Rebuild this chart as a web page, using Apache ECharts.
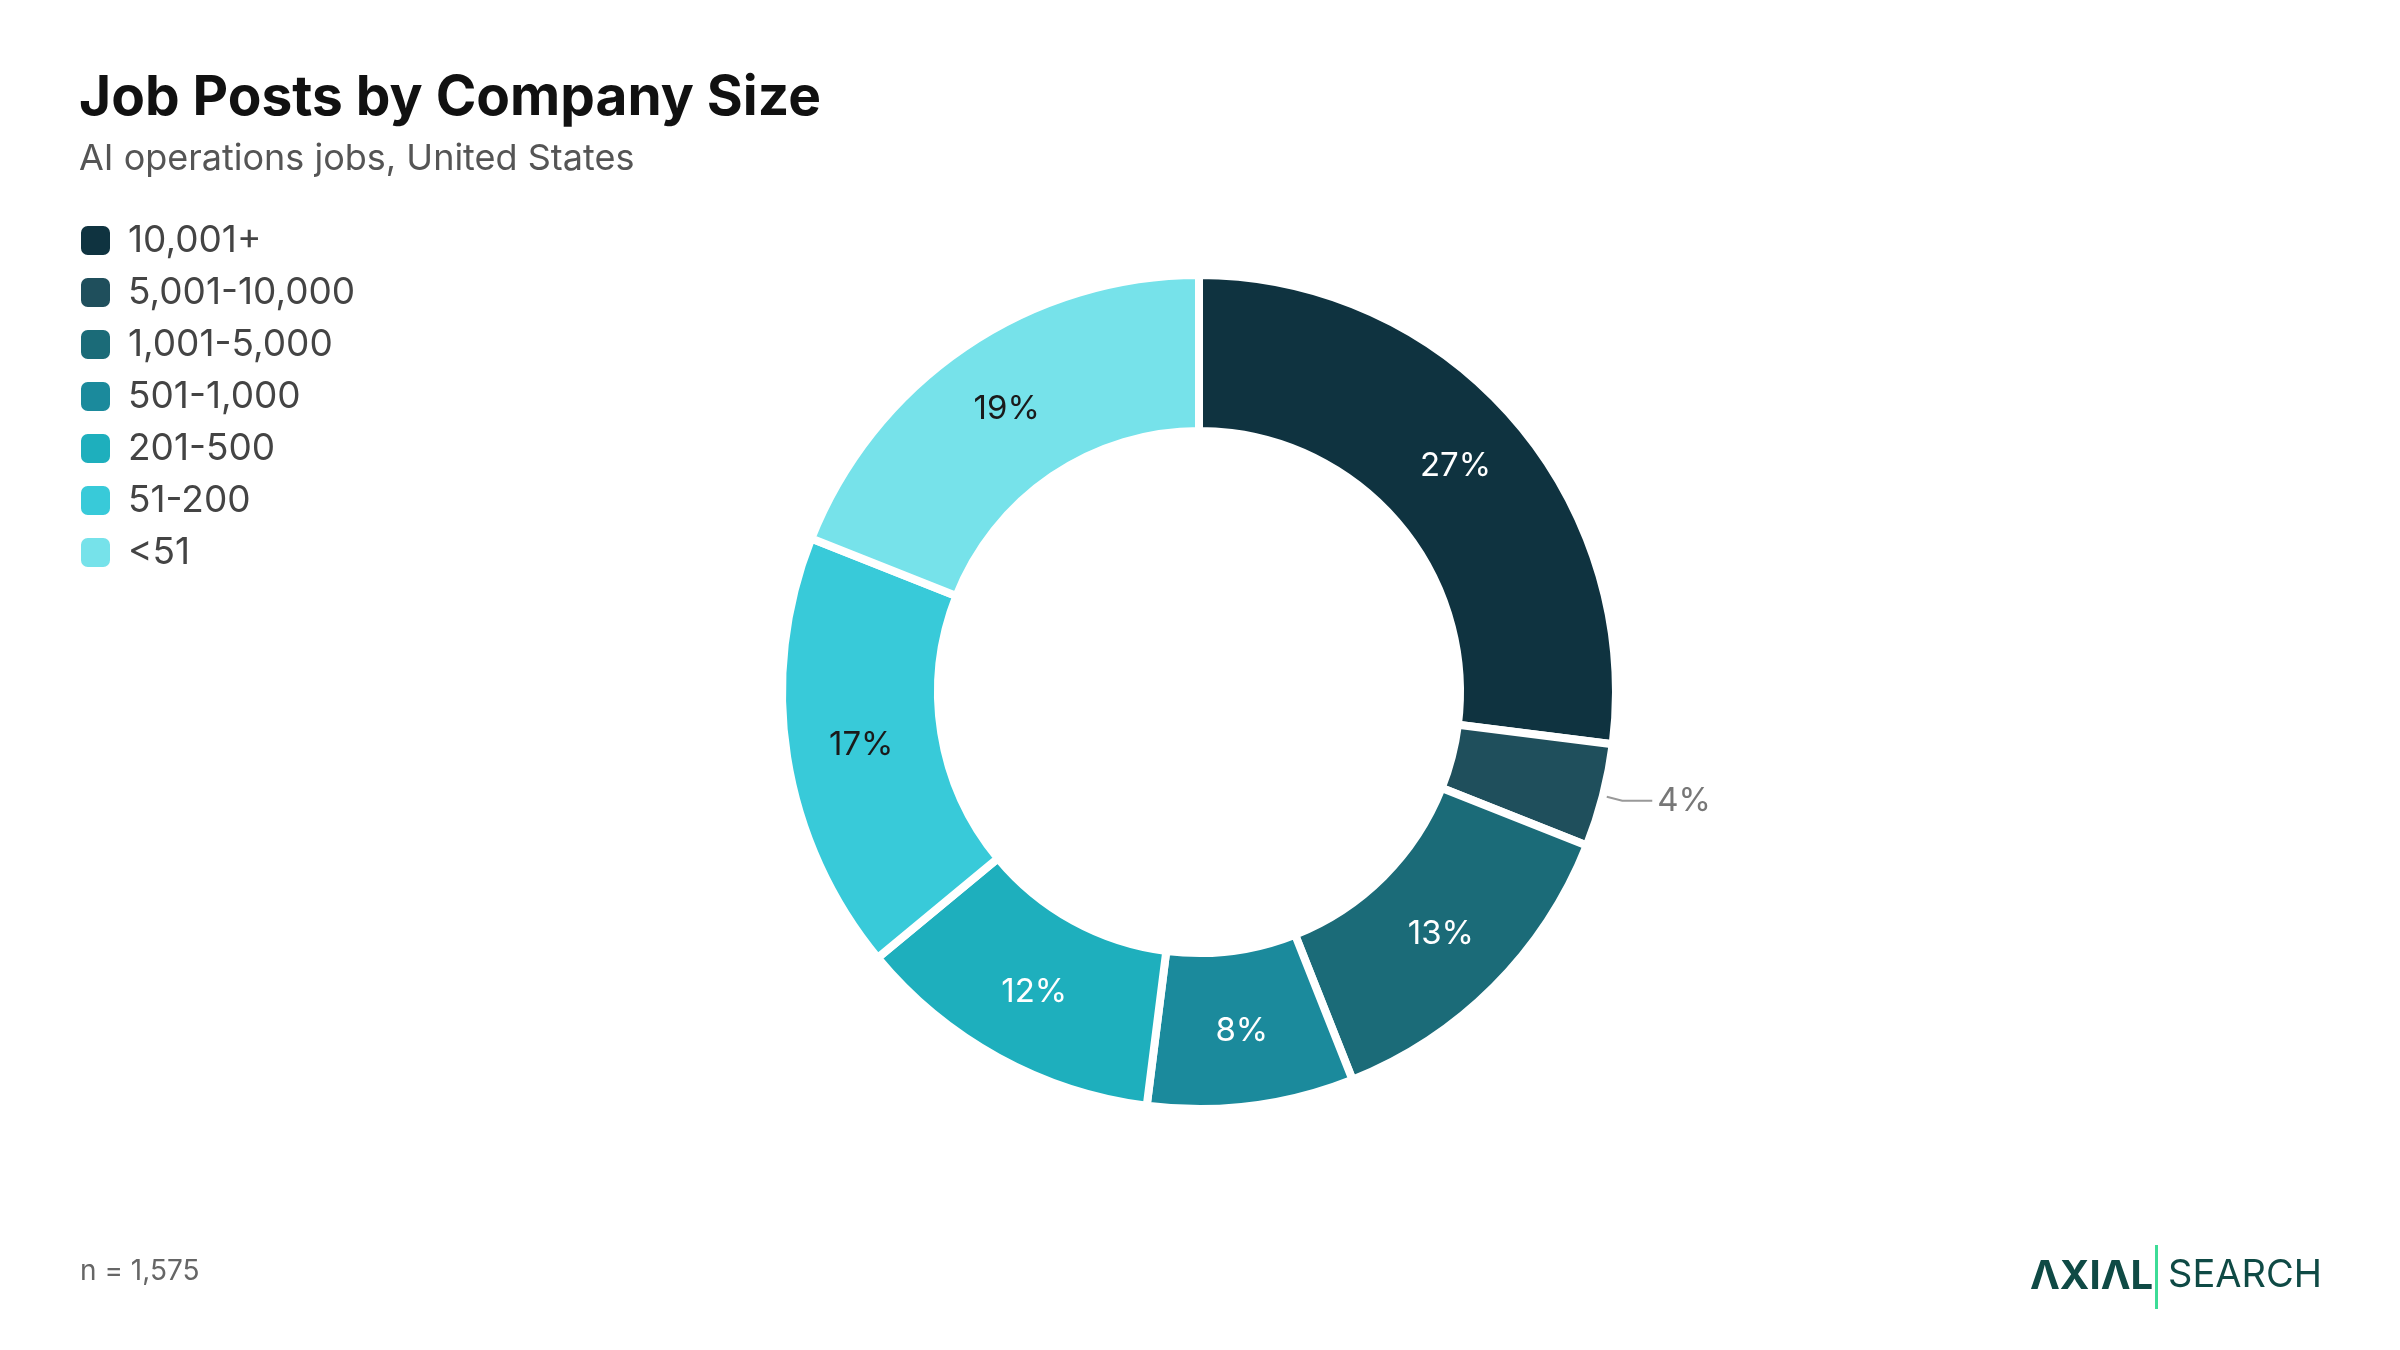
<!DOCTYPE html>
<html><head><meta charset="utf-8">
<script src="https://cdn.jsdelivr.net/npm/echarts@6/dist/echarts.min.js"></script>
<style>html,body{margin:0;padding:0;background:#fff}#c{width:2400px;height:1350px}</style>
</head><body><div id="c"></div>
<script>
const categories = ['10,001+','5,001-10,000','1,001-5,000','501-1,000','201-500','51-200','<51'];
const values = [27,4,13,8,12,17,19];
const colors = ['#0f3340','#1f4f5c','#1b6b78','#1b8a9c','#1eafbd','#38cad9','#76e2ea'];
const labelColors = ['#fff','#fff','#fff','#fff','#fff','#1a1a1a','#1a1a1a'];
const chart = echarts.init(document.getElementById('c'));
const font = 'Inter, "Noto Sans", sans-serif';
chart.setOption({
  backgroundColor:'#fff',
  color: colors,
  title:[{text:'Job Posts by Company Size',left:74,top:66,textStyle:{fontFamily:font,fontSize:55,fontWeight:'bold',color:'#111'}},
         {text:'AI operations jobs, United States',left:74,top:136,textStyle:{fontFamily:font,fontSize:36,fontWeight:'normal',color:'#555'}}],
  legend:{orient:'vertical',left:74,top:217,itemWidth:31,itemHeight:31,itemGap:15,icon:'roundRect',
    textStyle:{fontFamily:font,fontSize:37,color:'#444',padding:[0,0,0,12]},data:categories},
  series:[{type:'pie',center:[1199,692],radius:[261,417],startAngle:90,clockwise:true,
    itemStyle:{borderColor:'#fff',borderWidth:8},
    label:{position:'inside',formatter:'{c}%',fontFamily:font,fontSize:33},
    labelLine:{show:false},
    data:categories.map((n,i)=>{
      const d={name:n,value:values[i],label:{color:labelColors[i]}};
      if(i===1){d.label={position:'outside',color:'#777',fontSize:33,fontFamily:font};
        d.labelLine={show:true,length:20,length2:30,lineStyle:{color:'#999',width:2}};}
      return d;})
  }],
  graphic:[
    {type:'text',left:80,top:1258,style:{text:'n = 1,575',font:'28px '+font,fill:'#666'}},
    {type:'text',left:2030,top:1257,style:{text:'ΛXIΛL',font:'bold 40px '+font,fill:'#0f4a45'}},
    {type:'rect',shape:{x:2155,y:1245,width:3,height:64},style:{fill:'#3ddc97'}},
    {type:'text',left:2168,top:1257,style:{text:'SEARCH',font:'38px '+font,fill:'#0f4a45'}}
  ]
});
</script></body></html>
